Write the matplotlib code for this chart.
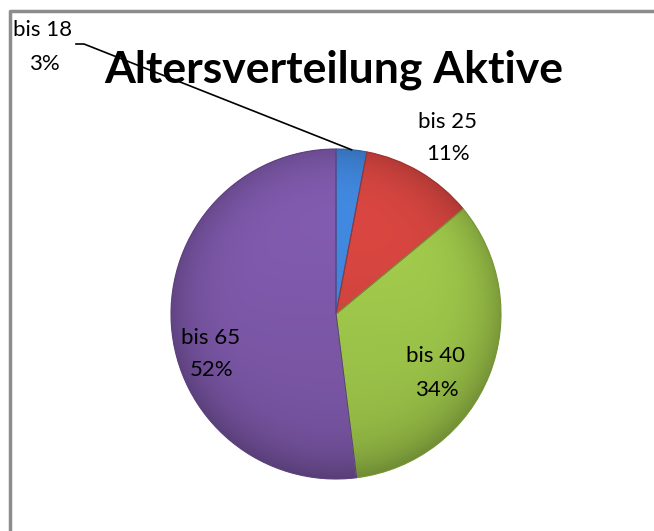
import numpy as np
import matplotlib.pyplot as plt
from matplotlib.patches import Wedge
import matplotlib.colors as mcolors

# Daten
labels = ['bis 18', 'bis 25', 'bis 40', 'bis 65']
values = [3, 11, 34, 52]
colors = ['#3f84d8', '#d2443f', '#9ec64a', '#7d58a9']
title = 'Altersverteilung Aktive'

W, H = 654, 531
fig = plt.figure(figsize=(W / 100, H / 100), dpi=100)
ax = fig.add_axes([0, 0, 1, 1])

cx, cy, r = 336, H - 314, 165

wedges, _ = ax.pie(values, colors=colors, startangle=90, counterclock=False,
                   center=(cx, cy), radius=r, frame=True,
                   wedgeprops=dict(edgecolor='none'))

# Schattierung: zum Rand hin dunkler
yy, xx = np.mgrid[cy - r:cy + r:400j, cx - r:cx + r:400j]
rr = np.hypot(xx - cx, yy - cy) / r
shade = 1 - 0.22 * np.clip(rr, 0, 1) ** 6 - 0.08 * (cy - yy) / r
for w, c in zip(wedges, colors):
    base = np.array(mcolors.to_rgb(c))
    img = np.clip(base[None, None, :] * shade[..., None], 0, 1)
    im = ax.imshow(img, extent=(cx - r, cx + r, cy - r, cy + r), origin='lower',
                   zorder=2, interpolation='bilinear')
    im.set_clip_path(w)
for w, c in zip(wedges, colors):
    ec = np.array(mcolors.to_rgb(c)) * 0.75
    ax.add_patch(Wedge((cx, cy), r, w.theta1, w.theta2, facecolor='none',
                       edgecolor=ec, lw=0.8, zorder=3))

ax.set_xlim(0, W)
ax.set_ylim(0, H)
ax.set_aspect('equal')
ax.axis('off')

# Beschriftungen (Mittelpunkt jedes Labels in Pixeln von oben)
pcts = [f'{v}%' for v in values]
label_pos = [(43, 47), (447, 138), (436, 373), (211, 354)]
for lab, p, (x, y) in zip(labels, pcts, label_pos):
    ax.text(x, H - y + 16.5, lab, ha='center', va='center',
            fontsize=16, family='Lato', zorder=5)
    ax.text(x + 1, H - y - 16.5, p, ha='center', va='center',
            fontsize=16, family='Lato', zorder=5)

# Führungslinie für bis 18
mid = 90 - (values[0] / sum(values) * 360) / 2
ex, ey = cx + r * np.cos(np.radians(mid)), cy + r * np.sin(np.radians(mid))
ax.plot([76, 84, ex], [H - 44, H - 44, ey], color='black', lw=1.2, zorder=4)

ax.text(334, H - 70, title, ha='center', va='center', fontsize=32,
        fontweight='bold', family='Lato', zorder=5)

# Rahmen
ax.plot([9.5, 9.5, W], [0, H - 10.5, H - 10.5], color='#8c8c8c', lw=2.5, zorder=6)

fig.savefig('out.png', dpi=100)
